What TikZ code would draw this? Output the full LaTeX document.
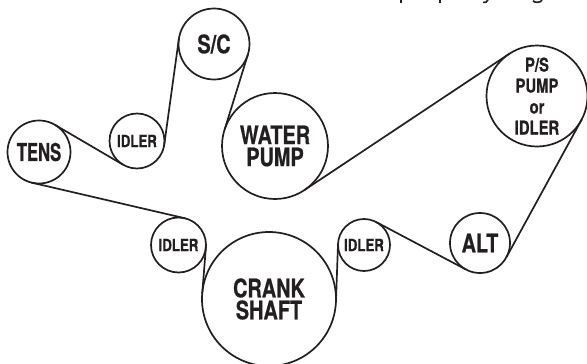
\documentclass[tikz,border=0pt]{standalone}
\usepackage{fontspec}
\setmainfont[FakeStretch=0.78,BoldFeatures={FakeBold=0.6}]{TeX Gyre Heros}
\newfontfamily\narrowfont[FakeStretch=0.68,BoldFeatures={FakeBold=0.6}]{TeX Gyre Heros}
\definecolor{ink}{HTML}{231F20}
\tikzset{
  pulley/.style={circle,draw=ink,line width=1.7pt,inner sep=0pt,outer sep=0pt,minimum size=#1,align=center,text=ink},
  belt/.style={draw=ink,line width=1.7pt,line cap=round},
  cut/.style={draw=ink,line width=1.6pt},
  big/.style={font=\fontsize{25.5}{22}\bfseries},
  mid/.style={font=\narrowfont\fontsize{24.5}{22}\bfseries},
  small/.style={font=\fontsize{19}{21}\bfseries},
  tiny/.style={font=\fontsize{17}{18}\bfseries}
}
\begin{document}
\begin{tikzpicture}[x=1pt,y=-1pt]
\useasboundingbox (0,0) rectangle (587,364);
\node[pulley=71pt,big] (sc) at (214,44) {S/C};
\node[pulley=55pt,tiny] (i1) at (137,141) {IDLER};
\node[pulley=63pt,mid] (tens) at (39,152) {TENS};
\node[pulley=106pt,big] (wp) at (275,146) {WATER\\PUMP};
\node[pulley=101pt,small] (ps) at (537,96) {P/S\\PUMP\\or\\IDLER};
\node[pulley=55pt,tiny] (i2) at (178.5,245) {IDLER};
\node[pulley=134pt,big] (cs) at (269,299) {CRANK\\SHAFT};
\node[pulley=52pt,tiny] (i3) at (364,245) {IDLER};
\node[pulley=60pt,big] (alt) at (480,243) {ALT};
\path[belt] (tens.59.6) -- (i1.239.6);
\path[belt] (i1.-7.8) -- (sc.172.2);
\path[belt] (sc.-17.2) -- (wp.162.8);
\path[belt] (wp.-56.4) -- (ps.123.6);
\path[belt] (ps.-28.7) -- (alt.-28.7);
\path[belt] (alt.242.1) -- (i3.62.1);
\path[belt] (i3.177.9) -- (cs.-2.1);
\path[belt] (cs.175.5) -- (i2.-4.5);
\path[belt] (i2.76.9) -- (tens.256.9);
% descenders of a text line cut off by the top edge
\path[cut] (401,0) -- (401,2.5);
\path[cut] (440,0) -- (440,2.5);
\path[cut] (488,0) -- (486,2.2) -- (483,2.4);
\path[cut] (533,0.6) .. controls (534,3) and (541,3) .. (542,0);
\end{tikzpicture}
\end{document}
